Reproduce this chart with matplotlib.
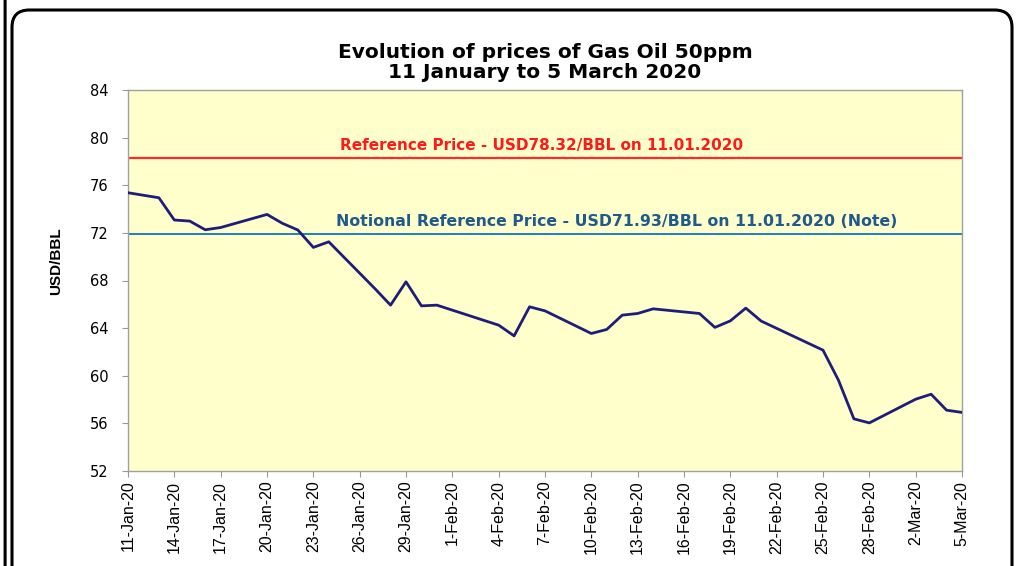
import numpy as np
import pandas as pd
import matplotlib
matplotlib.use("Agg")
import matplotlib.pyplot as plt
import matplotlib.dates as mdates
from matplotlib.patches import FancyBboxPatch

plt.rcParams['font.family'] = ['Liberation Sans', 'DejaVu Sans']

# data
dates = [
    "2020-01-11", "2020-01-13", "2020-01-14", "2020-01-15", "2020-01-16", "2020-01-17",
    "2020-01-20", "2020-01-21", "2020-01-22", "2020-01-23", "2020-01-24",
    "2020-01-27", "2020-01-28", "2020-01-29", "2020-01-30", "2020-01-31",
    "2020-02-03", "2020-02-04", "2020-02-05", "2020-02-06", "2020-02-07",
    "2020-02-10", "2020-02-11", "2020-02-12", "2020-02-13", "2020-02-14",
    "2020-02-17", "2020-02-18", "2020-02-19", "2020-02-20", "2020-02-21",
    "2020-02-24", "2020-02-25", "2020-02-26", "2020-02-27", "2020-02-28",
    "2020-03-02", "2020-03-03", "2020-03-04", "2020-03-05",
]
prices = [
    75.37, 74.95, 73.08, 72.99, 72.26, 72.45,
    73.55, 72.80, 72.24, 70.78, 71.25,
    67.30, 65.93, 67.89, 65.87, 65.93,
    64.67, 64.25, 63.35, 65.79, 65.45,
    63.55, 63.89, 65.09, 65.23, 65.62,
    65.23, 64.06, 64.61, 65.68, 64.59,
    62.76, 62.15, 59.63, 56.38, 56.04,
    58.03, 58.45, 57.11, 56.92,
]
ref_price = 78.32
notional_price = 71.93
ref_label = "Reference Price - USD78.32/BBL on 11.01.2020"
notional_label = "Notional Reference Price - USD71.93/BBL on 11.01.2020 (Note)"
title = "Evolution of prices of Gas Oil 50ppm\n11 January to 5 March 2020"

x = pd.to_datetime(dates)
tick_dates = pd.date_range("2020-01-11", "2020-03-05", freq="3D")

wide = ['DejaVu Sans']  # the reference text is drawn wide

fig = plt.figure(figsize=(10.2, 5.66), dpi=100)

# rounded frames around the chart
main_box = FancyBboxPatch((12 / 1020, -0.05), 1000 / 1020, (566 - 10) / 566 + 0.05,
                          boxstyle="round,pad=0,rounding_size=0.017",
                          transform=fig.transFigure, fill=False, lw=2.2,
                          ec="black", mutation_aspect=1020 / 566)
fig.patches.append(main_box)
left_box = FancyBboxPatch((-0.5, -0.05), 0.505, 1.2,
                          boxstyle="round,pad=0,rounding_size=0.01",
                          transform=fig.transFigure, fill=False, lw=2.2, ec="black")
fig.patches.append(left_box)

ax = fig.add_axes([128 / 1020, 1 - 471 / 566, (962 - 128) / 1020, (471 - 90) / 566])
ax.set_facecolor("#FFFFCC")

ax.axhline(ref_price, color="#FF2A2A", lw=1.6, zorder=2)
ax.axhline(notional_price, color="#2180C0", lw=1.4, zorder=2)
ax.plot(x, prices, color="#1E1E7A", lw=2, zorder=3)

x0 = mdates.date2num(x[0])
ax.text(x0 + 26.8, ref_price + 0.38, ref_label, color="#FF1A1A", fontsize=11,
        fontweight="bold", ha="center", va="bottom", family=wide)
ax.text(x0 + 13.45, notional_price + 0.4, notional_label, color="#1F5A8A", fontsize=11.3,
        fontweight="bold", ha="left", va="bottom", family=wide)

ax.set_ylim(52, 84)
ax.set_yticks(np.arange(52, 85, 4))
ax.set_xlim(tick_dates[0], tick_dates[-1])
ax.set_xticks(tick_dates)
ax.xaxis.set_major_formatter(mdates.DateFormatter("%-d-%b-%y"))
ax.tick_params(axis="x", rotation=90, labelsize=11.5, length=4, color="#999999", pad=3)
ax.tick_params(axis="y", labelsize=10.5, length=4, color="#999999", pad=10)
for lab in ax.get_yticklabels():
    lab.set_family(wide)
for s in ax.spines.values():
    s.set_color("#A0A0A0")
    s.set_linewidth(1)

ax.set_ylabel("USD/BBL", fontsize=11, fontweight="bold")
ax.yaxis.set_label_coords(-0.078, 0.55)
ax.set_title(title, fontsize=14.5, fontweight="bold", pad=9, linespacing=1.05, family=wide)

fig.savefig("out.png", dpi=100)
plt.close(fig)
